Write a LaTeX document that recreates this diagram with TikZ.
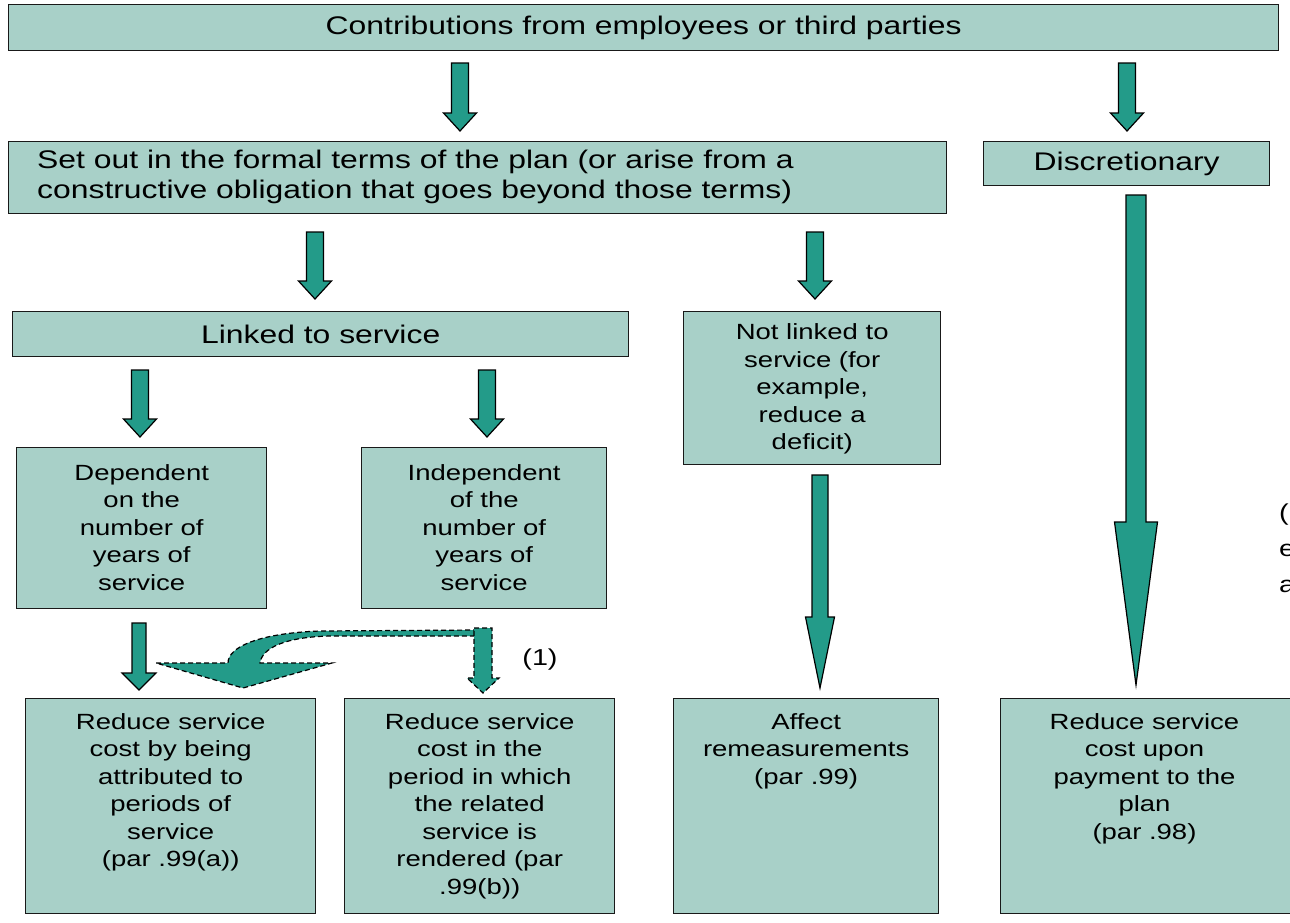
\documentclass[tikz,border=0pt]{standalone}
\usepackage{fontspec}
\setmainfont{Liberation Sans}[FakeStretch=1.25]
\definecolor{boxfill}{RGB}{168,208,200}
\definecolor{arrowfill}{RGB}{35,155,137}
\newcommand\blkarr[7][]{%
  \draw[blk,#1] (#2-#6,#3) -- (#2+#6,#3) -- (#2+#6,#4) -- (#2+#7,#4) -- (#2,#5) -- (#2-#7,#4) -- (#2-#6,#4) -- cycle;}
\begin{document}
\begin{tikzpicture}[x=1pt,y=-1pt,
  box/.style={draw=black!90, line width=1.4pt, fill=boxfill, rectangle, inner sep=0pt, anchor=north west},
  txt/.style={font=\fontsize{22}{27.5}\selectfont, align=center, inner sep=0pt},
  bigtxt/.style={font=\fontsize{25.5}{30}\selectfont, align=center, inner sep=0pt},
  blk/.style={draw=black, line width=1.2pt, fill=arrowfill, line join=miter},
  dashedline/.style={dash pattern=on 5pt off 3pt}]
\useasboundingbox (0,0) rectangle (1290,922);
\clip (0,0) rectangle (1290,922);
% boxes
\node[box, minimum width=1270pt, minimum height=46pt] (top) at (8,4) {};
\node[box, minimum width=938pt, minimum height=72pt] (plan) at (8,141) {};
\node[box, minimum width=286pt, minimum height=44pt] (disc) at (983,141) {};
\node[box, minimum width=616pt, minimum height=45pt] (linked) at (12,311) {};
\node[box, minimum width=257pt, minimum height=153pt] (notlinked) at (683,311) {};
\node[box, minimum width=250pt, minimum height=161pt] (dep) at (16,447) {};
\node[box, minimum width=245pt, minimum height=161pt] (indep) at (361,447) {};
\node[box, minimum width=290pt, minimum height=215pt] (ra) at (25,698) {};
\node[box, minimum width=270pt, minimum height=215pt] (rb) at (344,698) {};
\node[box, minimum width=265pt, minimum height=215pt] (aff) at (673,698) {};
\node[box, minimum width=295pt, minimum height=215pt] (rc) at (1000,698) {};
% texts
\node[bigtxt] (ttop) at (top.center) {Contributions from employees or third parties};
\node[bigtxt, align=left, anchor=west] (tplan) at (37,177) {Set out in the formal terms of the plan (or arise from a\\constructive obligation that goes beyond those terms)};
\node[bigtxt] (tdisc) at (disc.center) {Discretionary};
\node[bigtxt] (tlinked) at (linked.center) {Linked to service};
\node[txt] (tnot) at ([yshift=-1pt]notlinked.center) {Not linked to\\service (for\\example,\\reduce a\\deficit)};
\node[txt] (tdep) at ([yshift=1pt]dep.center) {Dependent\\on the\\number of\\years of\\service};
\node[txt] (tindep) at ([yshift=1pt]indep.center) {Independent\\of the\\number of\\years of\\service};
\node[txt, anchor=north] (tra) at ([yshift=-15pt]ra.north) {Reduce service\\cost by being\\attributed to\\periods of\\service\\(par .99(a))};
\node[txt, anchor=north] (trb) at ([yshift=-15pt]rb.north) {Reduce service\\cost in the\\period in which\\the related\\service is\\rendered (par\\.99(b))};
\node[txt, anchor=north] (taff) at ([yshift=-15pt]aff.north) {Affect\\remeasurements\\(par .99)};
\node[txt, anchor=north] (trc) at ([yshift=-15pt]1144.5,698) {Reduce service\\cost upon\\payment to the\\plan\\(par .98)};
\node[font=\fontsize{23}{36}\selectfont, inner sep=0pt] (one) at (540,660) {(1)};
\node[font=\fontsize{23}{36}\selectfont, align=left, inner sep=0pt, anchor=west] (note) at (1279,548) {(1\\e\\a};
% block arrows
\blkarr{460}{63}{113}{131}{8.5}{16.5}
\blkarr{1127}{63}{113}{131}{8.5}{16.5}
\blkarr{315}{232}{281}{299}{8.5}{16.5}
\blkarr{815}{232}{281}{299}{8.5}{16.5}
\blkarr{140}{370}{419}{437}{8.5}{16.5}
\blkarr{487}{370}{419}{437}{8.5}{16.5}
\blkarr{139}{623}{673}{690}{7}{17}
\blkarr{820}{475}{617}{688}{8}{14.5}
\blkarr{1136}{195}{522}{685}{10}{21.5}
% dashed curved arrow
\draw[blk, dashedline] (478,630) -- (320,631) .. controls (262,633) and (228,646) .. (228,663)
  -- (156,663) -- (243,688) -- (332,663) -- (260,663)
  .. controls (262,648) and (285,637) .. (330,636) -- (478,636);
\blkarr[dashedline]{483}{628}{678}{693}{9}{16}
\end{tikzpicture}
\end{document}
